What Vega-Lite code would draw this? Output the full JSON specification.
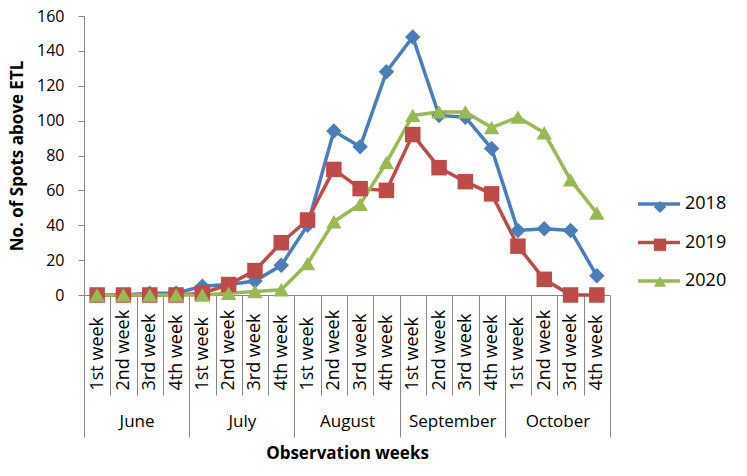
{
  "$schema": "https://vega.github.io/schema/vega-lite/v6.json",
  "width": 526,
  "height": 279,
  "autosize": "none",
  "padding": {"left": 84, "top": 16, "right": 137, "bottom": 181},
  "background": "white",
  "config": {"view": {"stroke": null}, "font": "Open Sans"},
  "data": {"values": [
    {"year":"2018","month":"June","slot":"June|1st week","n":0},
    {"year":"2018","month":"June","slot":"June|2nd week","n":0},
    {"year":"2018","month":"June","slot":"June|3rd week","n":1},
    {"year":"2018","month":"June","slot":"June|4th week","n":1},
    {"year":"2018","month":"July","slot":"July|1st week","n":5},
    {"year":"2018","month":"July","slot":"July|2nd week","n":6},
    {"year":"2018","month":"July","slot":"July|3rd week","n":8},
    {"year":"2018","month":"July","slot":"July|4th week","n":17},
    {"year":"2018","month":"August","slot":"August|1st week","n":40},
    {"year":"2018","month":"August","slot":"August|2nd week","n":94},
    {"year":"2018","month":"August","slot":"August|3rd week","n":85},
    {"year":"2018","month":"August","slot":"August|4th week","n":128},
    {"year":"2018","month":"September","slot":"September|1st week","n":148},
    {"year":"2018","month":"September","slot":"September|2nd week","n":103},
    {"year":"2018","month":"September","slot":"September|3rd week","n":102},
    {"year":"2018","month":"September","slot":"September|4th week","n":84},
    {"year":"2018","month":"October","slot":"October|1st week","n":37},
    {"year":"2018","month":"October","slot":"October|2nd week","n":38},
    {"year":"2018","month":"October","slot":"October|3rd week","n":37},
    {"year":"2018","month":"October","slot":"October|4th week","n":11},
    {"year":"2019","month":"June","slot":"June|1st week","n":0},
    {"year":"2019","month":"June","slot":"June|2nd week","n":0},
    {"year":"2019","month":"June","slot":"June|3rd week","n":0},
    {"year":"2019","month":"June","slot":"June|4th week","n":0},
    {"year":"2019","month":"July","slot":"July|1st week","n":1},
    {"year":"2019","month":"July","slot":"July|2nd week","n":6},
    {"year":"2019","month":"July","slot":"July|3rd week","n":14},
    {"year":"2019","month":"July","slot":"July|4th week","n":30},
    {"year":"2019","month":"August","slot":"August|1st week","n":43},
    {"year":"2019","month":"August","slot":"August|2nd week","n":72},
    {"year":"2019","month":"August","slot":"August|3rd week","n":61},
    {"year":"2019","month":"August","slot":"August|4th week","n":60},
    {"year":"2019","month":"September","slot":"September|1st week","n":92},
    {"year":"2019","month":"September","slot":"September|2nd week","n":73},
    {"year":"2019","month":"September","slot":"September|3rd week","n":65},
    {"year":"2019","month":"September","slot":"September|4th week","n":58},
    {"year":"2019","month":"October","slot":"October|1st week","n":28},
    {"year":"2019","month":"October","slot":"October|2nd week","n":9},
    {"year":"2019","month":"October","slot":"October|3rd week","n":0},
    {"year":"2019","month":"October","slot":"October|4th week","n":0},
    {"year":"2020","month":"June","slot":"June|1st week","n":0},
    {"year":"2020","month":"June","slot":"June|2nd week","n":0},
    {"year":"2020","month":"June","slot":"June|3rd week","n":0},
    {"year":"2020","month":"June","slot":"June|4th week","n":0},
    {"year":"2020","month":"July","slot":"July|1st week","n":0},
    {"year":"2020","month":"July","slot":"July|2nd week","n":1},
    {"year":"2020","month":"July","slot":"July|3rd week","n":2},
    {"year":"2020","month":"July","slot":"July|4th week","n":3},
    {"year":"2020","month":"August","slot":"August|1st week","n":18},
    {"year":"2020","month":"August","slot":"August|2nd week","n":42},
    {"year":"2020","month":"August","slot":"August|3rd week","n":52},
    {"year":"2020","month":"August","slot":"August|4th week","n":76},
    {"year":"2020","month":"September","slot":"September|1st week","n":103},
    {"year":"2020","month":"September","slot":"September|2nd week","n":105},
    {"year":"2020","month":"September","slot":"September|3rd week","n":105},
    {"year":"2020","month":"September","slot":"September|4th week","n":96},
    {"year":"2020","month":"October","slot":"October|1st week","n":102},
    {"year":"2020","month":"October","slot":"October|2nd week","n":93},
    {"year":"2020","month":"October","slot":"October|3rd week","n":66},
    {"year":"2020","month":"October","slot":"October|4th week","n":47}
  ]},
  "resolve": {"scale": {"x": "independent"}},
  "layer": [
    {
      "mark": {"type": "point", "opacity": 0},
      "encoding": {
        "x": {"field": "month", "type": "nominal", "sort": null,
              "scale": {"type": "band", "paddingInner": 0, "paddingOuter": 0},
              "axis": {"orient": "bottom", "offset": 100, "domain": false, "tickBand": "extent", "tickSize": 42,
                       "tickColor": "#868686", "labelAngle": 0, "labelPadding": -24, "labelFont": "Open Sans",
                       "labelFontSize": 17, "labelColor": "black",
                       "title": "Observation weeks", "titleFont": "Open Sans", "titleFontSize": 17,
                       "titleFontWeight": "bold", "titleColor": "black", "titlePadding": 8}},
        "y": {"field": "n", "type": "quantitative",
              "scale": {"domain": [0, 160], "nice": false},
              "axis": {"values": [0,20,40,60,80,100,120,140,160], "grid": false, "labelOverlap": false,
                       "domainColor": "#868686", "tickColor": "#868686", "tickSize": 6, "labelPadding": 14,
                       "labelFont": "Open Sans", "labelFontSize": 16, "labelColor": "black",
                       "title": "No. of Spots above ETL", "titleFont": "Open Sans", "titleFontSize": 17,
                       "titleFontWeight": "bold", "titleColor": "black", "titlePadding": 10}}
      }
    },
    {
      "resolve": {"legend": {"color": "independent", "shape": "independent"}},
      "layer": [
        {
          "mark": {"type": "line", "strokeWidth": 3.5},
          "encoding": {
            "color": {"field": "year", "type": "nominal",
                      "legend": {"orient": "none", "legendX": 566, "legendY": 179, "title": null,
                                 "symbolType": "M-3,0H3", "symbolSize": 196, "symbolStrokeWidth": 3.5,
                                 "labelFont": "Open Sans", "labelFontSize": 18, "labelColor": "black",
                                 "labelOffset": 17, "rowPadding": 20.5, "padding": 0}}
          }
        },
        {
          "mark": {"type": "point", "filled": true, "opacity": 1, "size": 240},
          "encoding": {
            "shape": {"field": "year", "type": "nominal",
                      "scale": {"domain": ["2018","2019","2020"], "range": ["diamond","square","triangle-up"]},
                      "legend": {"orient": "none", "legendX": 567, "legendY": 182, "title": null,
                                 "symbolSize": 150, "symbolOpacity": 1, "labelExpr": "''",
                                 "labelFont": "Open Sans", "labelFontSize": 18,
                                 "labelOffset": 17, "rowPadding": 17.75, "padding": 0}},
            "color": {"field": "year", "type": "nominal",
                      "legend": {"orient": "none", "legendX": 567, "legendY": 182, "title": null,
                                 "symbolSize": 150, "symbolOpacity": 1, "labelExpr": "''",
                                 "labelFont": "Open Sans", "labelFontSize": 18,
                                 "labelOffset": 17, "rowPadding": 17.75, "padding": 0}}
          }
        }
      ],
      "encoding": {
        "x": {"field": "slot", "type": "nominal", "sort": null,
              "scale": {"type": "band", "paddingInner": 0, "paddingOuter": 0},
              "axis": {"orient": "bottom", "title": null, "tickBand": "extent", "tickSize": 100,
                       "tickColor": "#868686", "domainColor": "#868686", "labelAngle": -90,
                       "labelAlign": "left", "labelBaseline": "middle", "labelPadding": -5,
                       "labelFont": "Open Sans", "labelFontSize": 18, "labelColor": "black",
                       "labelOverlap": false, "labelExpr": "split(datum.label, '|')[1]"}},
        "y": {"field": "n", "type": "quantitative",
              "scale": {"domain": [0, 160], "nice": false},
              "axis": {"values": [0,20,40,60,80,100,120,140,160], "grid": false, "labelOverlap": false,
                       "domainColor": "#868686", "tickColor": "#868686", "tickSize": 6, "labelPadding": 14,
                       "labelFont": "Open Sans", "labelFontSize": 16, "labelColor": "black",
                       "title": "No. of Spots above ETL", "titleFont": "Open Sans", "titleFontSize": 17,
                       "titleFontWeight": "bold", "titleColor": "black", "titlePadding": 10}},
        "color": {"field": "year", "type": "nominal",
                  "scale": {"domain": ["2018","2019","2020"], "range": ["#4A7EBB","#BE4B48","#98B954"]}}
      }
    }
  ]
}
